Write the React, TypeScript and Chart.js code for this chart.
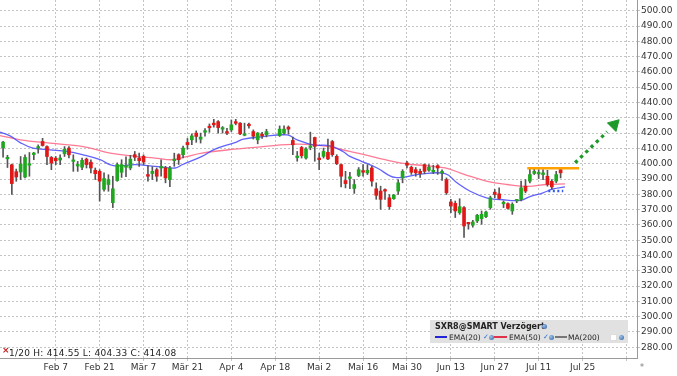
import React, { useEffect, useRef } from "react";
import { Chart, registerables } from "chart.js";

Chart.register(...registerables);

// ---- Data ----
// Candle slots: trading-day index 0 = Jan 20, 2022 (null = holiday slot)
const opens: (number | null)[] = [
  410.5, 403.2, 399.3, 394.8, 394.6, 391.3, 399.0, 406.0, 410.2, 414.5,
  411.2, 404.1, 403.6, 402.4, 406.5, 410.2, 401.5, 398.5, 397.7, 403.0,
  401.0, 395.7, 395.0, 383.2, 386.4, 374.5, 389.0, 394.4, 397.7, 397.2,
  405.9, 403.7, 404.8, 392.9, 393.6, 396.1, 397.2, 397.2, 389.6, 402.0,
  405.9, 405.9, 413.9, 415.6, 420.0, 416.0, 420.6, 424.2, 426.5, 427.5,
  422.6, 421.0, 422.1, 427.5, 426.5, 418.6, 425.6, 421.0, 415.6, 419.3,
  418.9, null, null, 418.4, 420.0, 423.9, 415.2, 404.0, 410.6, 403.7,
  410.6, 417.1, 403.7, 404.8, 407.4, 414.5, 404.8, 399.4, 389.0, 390.4,
  383.8, 392.3, 395.5, 394.0, 397.2, 383.6, 382.1, 382.7, 377.7, 377.1,
  382.1, 390.7, 400.5, 397.7, 396.1, 395.0, 399.4, 395.7, 394.7, 398.7,
  394.0, 389.6, 375.0, 374.1, 368.0, 371.3, 361.3, 359.8, 362.6, 364.1,
  365.4, 371.3, 381.4, 380.3, 373.8, 373.9, 369.1, 375.7, 376.7, 385.3,
  388.6, 393.6, 393.3, 392.9, 391.8, 388.5, 388.6, 396.1,
];
const highs: (number | null)[] = [
  414.55, 405.5, 399.8, 396.5, 404.7, 405.8, 407.3, 407.4, 412.3, 416.6,
  411.6, 404.7, 404.7, 405.8, 411.2, 411.2, 405.8, 401.5, 403.7, 403.7,
  402.6, 397.2, 396.1, 394.0, 392.8, 391.8, 400.5, 402.6, 404.5, 405.5,
  408.0, 407.0, 405.8, 398.8, 398.0, 397.2, 402.6, 398.3, 398.3, 406.9,
  406.5, 411.5, 416.5, 419.5, 421.5, 420.0, 423.0, 426.0, 429.0, 428.2,
  424.3, 423.2, 428.6, 429.0, 426.9, 426.5, 426.5, 422.1, 420.4, 420.5,
  422.5, null, null, 424.7, 424.7, 424.7, 417.4, 408.0, 411.3, 410.5,
  420.6, 417.4, 407.0, 410.2, 416.1, 415.2, 405.9, 399.8, 395.0, 394.4,
  389.6, 397.5, 399.4, 399.4, 398.3, 387.5, 385.3, 383.6, 379.9, 379.9,
  389.6, 396.1, 401.6, 398.5, 397.5, 396.5, 399.8, 399.4, 399.0, 399.4,
  396.0, 390.7, 376.7, 375.6, 377.1, 372.0, 361.5, 363.0, 366.9, 369.1,
  369.1, 378.8, 383.2, 384.2, 375.6, 374.5, 374.5, 376.7, 388.6, 389.6,
  397.2, 397.2, 396.1, 396.1, 395.7, 389.6, 395.0, 397.2,
];
const lows: (number | null)[] = [
  404.33, 397.5, 379.9, 388.5, 389.6, 390.7, 391.8, 402.6, 406.9, 411.5,
  399.3, 396.1, 399.3, 399.3, 404.7, 403.7, 395.0, 395.0, 396.1, 397.2,
  393.9, 389.6, 375.6, 382.0, 382.0, 371.3, 388.5, 391.0, 391.5, 396.0,
  402.0, 398.3, 399.4, 388.6, 389.6, 388.5, 391.8, 387.5, 385.0, 398.3,
  399.5, 403.7, 409.5, 412.5, 414.0, 413.5, 418.0, 420.5, 423.9, 420.0,
  420.0, 418.9, 421.0, 425.4, 418.9, 418.2, 423.2, 416.1, 413.0, 416.5,
  417.5, null, null, 417.8, 419.3, 419.3, 405.9, 401.6, 403.7, 403.0,
  409.1, 401.6, 396.1, 403.7, 402.6, 404.8, 399.4, 384.9, 384.2, 383.6,
  380.6, 391.5, 391.8, 392.9, 385.3, 376.7, 370.2, 376.7, 370.2, 376.7,
  379.9, 387.5, 397.2, 393.0, 391.8, 391.0, 393.5, 395.0, 393.5, 393.0,
  389.0, 379.9, 368.0, 364.8, 366.9, 351.8, 357.2, 358.5, 361.5, 360.4,
  364.8, 370.2, 377.7, 376.7, 371.3, 370.2, 366.9, 374.5, 375.6, 381.0,
  387.5, 392.9, 390.3, 389.6, 385.3, 383.2, 387.5, 390.7,
];
const closes: (number | null)[] = [
  414.08, 404.1, 387.0, 391.3, 399.8, 404.1, 399.6, 406.9, 410.8, 411.9,
  404.7, 400.4, 401.9, 403.7, 409.5, 405.8, 402.3, 399.2, 402.2, 399.4,
  397.2, 393.5, 388.6, 390.3, 389.6, 383.6, 399.4, 399.4, 398.3, 403.0,
  404.2, 402.0, 401.1, 391.8, 395.0, 391.8, 397.8, 390.7, 397.2, 402.8,
  402.6, 410.2, 412.4, 418.2, 417.8, 417.4, 421.3, 423.5, 425.4, 423.6,
  423.2, 420.0, 425.4, 426.4, 419.5, 419.2, 424.8, 418.0, 420.0, 418.2,
  421.0, null, null, 422.6, 422.6, 422.6, 412.4, 404.6, 405.2, 409.6,
  411.2, 411.3, 402.6, 408.0, 403.1, 405.9, 400.0, 391.8, 387.0, 391.0,
  386.4, 396.1, 394.4, 395.7, 388.6, 379.3, 376.7, 382.1, 371.9, 379.5,
  387.5, 395.0, 399.0, 394.4, 394.0, 393.6, 395.0, 397.7, 395.3, 397.2,
  395.0, 381.0, 372.3, 369.1, 371.9, 359.3, 360.7, 361.9, 366.3, 366.9,
  368.4, 377.7, 379.9, 377.3, 374.4, 370.8, 373.4, 376.3, 384.2, 382.1,
  392.9, 395.0, 393.9, 394.0, 386.5, 384.8, 392.9, 394.0,
];

// EMA lines, sampled along the trading-day index
const ema20Idx = [-0.7, 1.6, 3.9, 6.8, 10.7, 14.6, 18.2, 22.1, 25.1, 30.1, 34.6, 39.2, 40.8, 45.3, 48.3, 52.8, 54.7, 59.2, 64.7, 67, 70.6, 74.5, 77.4, 79, 81.3, 85.2, 89.3, 95, 100.7, 103.4, 106.4, 110.3, 113.2, 117.8, 120, 123, 125.3, 128];
const ema20Val = [420.6, 418.2, 413.8, 410.2, 409.1, 408.0, 405.8, 402.6, 398.7, 399.4, 398.3, 397.2, 399.3, 404.8, 409.5, 413.8, 416.0, 417.7, 418.8, 415.6, 412.3, 411.7, 408.0, 404.8, 402.0, 397.2, 391.0, 393.2, 393.5, 387.5, 382.0, 377.5, 376.6, 376.0, 378.5, 381.0, 383.5, 384.8];
const ema50Idx = [-0.7, 3.9, 10.7, 18.2, 24.4, 30.1, 34.6, 38.5, 41.5, 45.3, 52.8, 59.2, 67, 72.9, 79, 82.5, 87, 91.6, 96.1, 100.7, 105.2, 110.3, 114.8, 119.4, 123.9, 128];
const ema50Val = [418.4, 415.6, 413.4, 411.2, 406.9, 404.8, 403.7, 402.6, 404.4, 406.9, 409.5, 411.2, 412.8, 411.7, 408.0, 405.8, 402.6, 400.0, 398.7, 397.2, 392.9, 388.5, 386.4, 385.2, 386.4, 386.8];

// Drawn annotations (index / price units)
const resistanceLevel = 397.0;
const resistanceFrom = 119.4;
const resistanceTo = 131.2;
const supportLevel = 382.2;
const supportFrom = 124.2;
const supportTo = 127.6;
const arrowIdx = [130.3, 137.6];
const arrowVal = [400.6, 420.9];
const arrowHeadIdx = 139.2;
const arrowHeadVal = 425.5;

// Axis ticks
const xTickIdx = [12, 22, 32, 42, 52, 62, 72, 82, 92, 102, 112, 122, 132, 142];
const xTickLabels = ["Feb 7", "Feb 21", "Mär 7", "Mär 21", "Apr 4", "Apr 18", "Mai 2", "Mai 16", "Mai 30", "Jun 13", "Jun 27", "Jul 11", "Jul 25", ""];
const yTicks = [280, 290, 300, 310, 320, 330, 340, 350, 360, 370, 380, 390, 400, 410, 420, 430, 440, 450, 460, 470, 480, 490, 500];

const GREEN = "#1fa81f";
const RED = "#e01818";
const FONT = "'DejaVu Sans', Verdana, sans-serif";

export default function App() {
  const canvasRef = useRef<HTMLCanvasElement | null>(null);

  useEffect(() => {
    document.body.style.margin = "0";
    const canvas = canvasRef.current;
    if (!canvas) return;

    const wickData: any[] = [];
    const bodyData: any[] = [];
    const bodyColors: string[] = [];
    for (let i = 0; i < opens.length; i++) {
      const o = opens[i], h = highs[i], l = lows[i], c = closes[i];
      if (o == null || h == null || l == null || c == null) continue;
      wickData.push({ x: i, y: [l, h] });
      bodyData.push({ x: i, y: [o, c] });
      bodyColors.push(c >= o ? GREEN : RED);
    }

    Chart.defaults.font.family = FONT;
    Chart.defaults.font.size = 9;
    Chart.defaults.color = "#333";

    const chart = new Chart(canvas, {
      type: "bar",
      data: {
        datasets: [
          {
            type: "scatter",
            order: 0,
            data: [{ x: arrowHeadIdx, y: arrowHeadVal }],
            pointStyle: "triangle",
            rotation: 45,
            pointRadius: 7,
            backgroundColor: "#1e9a2a",
            borderColor: "#1e9a2a",
            borderWidth: 1,
          } as any,
          {
            type: "line",
            order: 1,
            data: arrowIdx.map((x, k) => ({ x, y: arrowVal[k] })),
            borderColor: "#1e9a2a",
            borderWidth: 3.3,
            borderDash: [3.3, 4],
            pointRadius: 0,
          } as any,
          {
            type: "line",
            order: 2,
            data: [
              { x: resistanceFrom, y: resistanceLevel },
              { x: resistanceTo, y: resistanceLevel },
            ],
            borderColor: "#ffa200",
            borderWidth: 2.5,
            pointRadius: 0,
          } as any,
          {
            type: "line",
            order: 3,
            data: [
              { x: supportFrom, y: supportLevel },
              { x: supportTo, y: supportLevel },
            ],
            borderColor: "#3558f0",
            borderWidth: 2.5,
            borderDash: [2, 2.5],
            pointRadius: 0,
          } as any,
          {
            type: "bar",
            order: 4,
            data: bodyData,
            backgroundColor: bodyColors,
            barThickness: 3,
            minBarLength: 1.5,
            grouped: false,
          } as any,
          {
            type: "bar",
            order: 5,
            data: wickData,
            backgroundColor: "#555",
            barThickness: 1,
            grouped: false,
          } as any,
          {
            type: "line",
            order: 6,
            data: ema20Idx.map((x, k) => ({ x, y: ema20Val[k] })),
            borderColor: "rgba(70,70,255,0.85)",
            borderWidth: 1.3,
            pointRadius: 0,
            tension: 0.4,
          } as any,
          {
            type: "line",
            order: 7,
            data: ema50Idx.map((x, k) => ({ x, y: ema50Val[k] })),
            borderColor: "rgba(255,100,130,0.85)",
            borderWidth: 1.3,
            pointRadius: 0,
            tension: 0.4,
          } as any,
        ],
      },
      options: {
        responsive: false,
        animation: false,
        events: [],
        layout: { padding: 0, autoPadding: false },
        plugins: { legend: { display: false }, tooltip: { enabled: false } },
        scales: {
          x: {
            type: "linear",
            offset: false,
            min: -0.7,
            max: 144.4,
            afterBuildTicks: (s: any) => {
              s.ticks = xTickIdx.map((v) => ({ value: v }));
            },
            afterFit: (s: any) => {
              s.height = 18;
              s.paddingLeft = 0;
              s.paddingRight = 0;
            },
            ticks: {
              autoSkip: false,
              maxRotation: 0,
              padding: 1,
              color: "#333",
              font: { size: 9, family: FONT },
              callback: (_v: any, idx: number) => xTickLabels[idx],
            },
            grid: {
              offset: false,
              color: "#c4c4c4",
              drawTicks: true,
              tickLength: 3,
              tickBorderDash: [2, 2],
            },
            border: { display: true, color: "#9a9a9a", dash: [2, 2] },
          },
          y: {
            type: "linear",
            position: "right",
            min: 273,
            max: 507,
            afterBuildTicks: (s: any) => {
              s.ticks = yTicks.map((v) => ({ value: v }));
            },
            afterFit: (s: any) => {
              s.width = 40;
              s.paddingTop = 0;
              s.paddingBottom = 0;
            },
            ticks: {
              padding: 1,
              color: "#333",
              font: { size: 9, family: FONT },
              callback: (v: any) => Number(v).toFixed(2),
            },
            grid: {
              color: "#c4c4c4",
              drawTicks: true,
              tickLength: 3,
              tickBorderDash: [2, 2],
            },
            border: { display: true, color: "#9a9a9a", dash: [2, 2] },
          },
        },
      } as any,
    });

    return () => chart.destroy();
  }, []);

  const globe = (left: number, top: number) => (
    <div
      style={{
        position: "absolute",
        left,
        top,
        width: 5,
        height: 5,
        borderRadius: "50%",
        background: "radial-gradient(circle at 35% 35%, #9cc3ea, #2f5f9e)",
      }}
    />
  );
  const txt: React.CSSProperties = {
    position: "absolute",
    fontFamily: FONT,
    fontSize: 7.5,
    lineHeight: "9px",
    color: "#222",
    whiteSpace: "nowrap",
  };

  return (
    <div style={{ position: "relative", width: 677, height: 376, background: "#fff", overflow: "hidden" }}>
      <canvas ref={canvasRef} width={677} height={376} style={{ display: "block" }} />
      {/* info line */}
      <div style={{ ...txt, left: 2, top: 346, fontSize: 9, color: "#c81e1e", fontWeight: "bold" }}>×</div>
      <div style={{ ...txt, left: 9, top: 348, fontSize: 9, letterSpacing: 0.25, lineHeight: "10px" }}>1/20 H: 414.55 L: 404.33 C: 414.08</div>
      <div style={{ ...txt, left: 640, top: 363, fontSize: 8, color: "#777" }}>*</div>
      {/* legend box */}
      <div style={{ position: "absolute", left: 430, top: 320, width: 198, height: 23, background: "#e1e1e1" }}>
        <div style={{ ...txt, left: 5, top: 1.5, fontSize: 8, fontWeight: "bold" }}>SXR8@SMART Verzögert</div>
        {globe(112, 4)}
        <div style={{ position: "absolute", left: 5, top: 16, width: 12, height: 2, background: "#2323d8" }} />
        <div style={{ ...txt, left: 19, top: 12.5 }}>EMA(20)</div>
        <div style={{ ...txt, left: 53, top: 12.5, color: "#2f6fd0", fontSize: 7 }}>✓</div>
        {globe(59, 15)}
        <div style={{ position: "absolute", left: 64, top: 16, width: 13, height: 2, background: "#e0304a" }} />
        <div style={{ ...txt, left: 79, top: 12.5 }}>EMA(50)</div>
        <div style={{ ...txt, left: 113, top: 12.5, color: "#2f6fd0", fontSize: 7 }}>✓</div>
        {globe(119, 15)}
        <div style={{ position: "absolute", left: 125, top: 16, width: 12, height: 2, background: "#777" }} />
        <div style={{ ...txt, left: 138, top: 12.5 }}>MA(200)</div>
        <div style={{ position: "absolute", left: 180, top: 14, width: 5, height: 5, background: "#fff", border: "1px solid #ddd" }} />
        {globe(189, 15)}
      </div>
    </div>
  );
}
